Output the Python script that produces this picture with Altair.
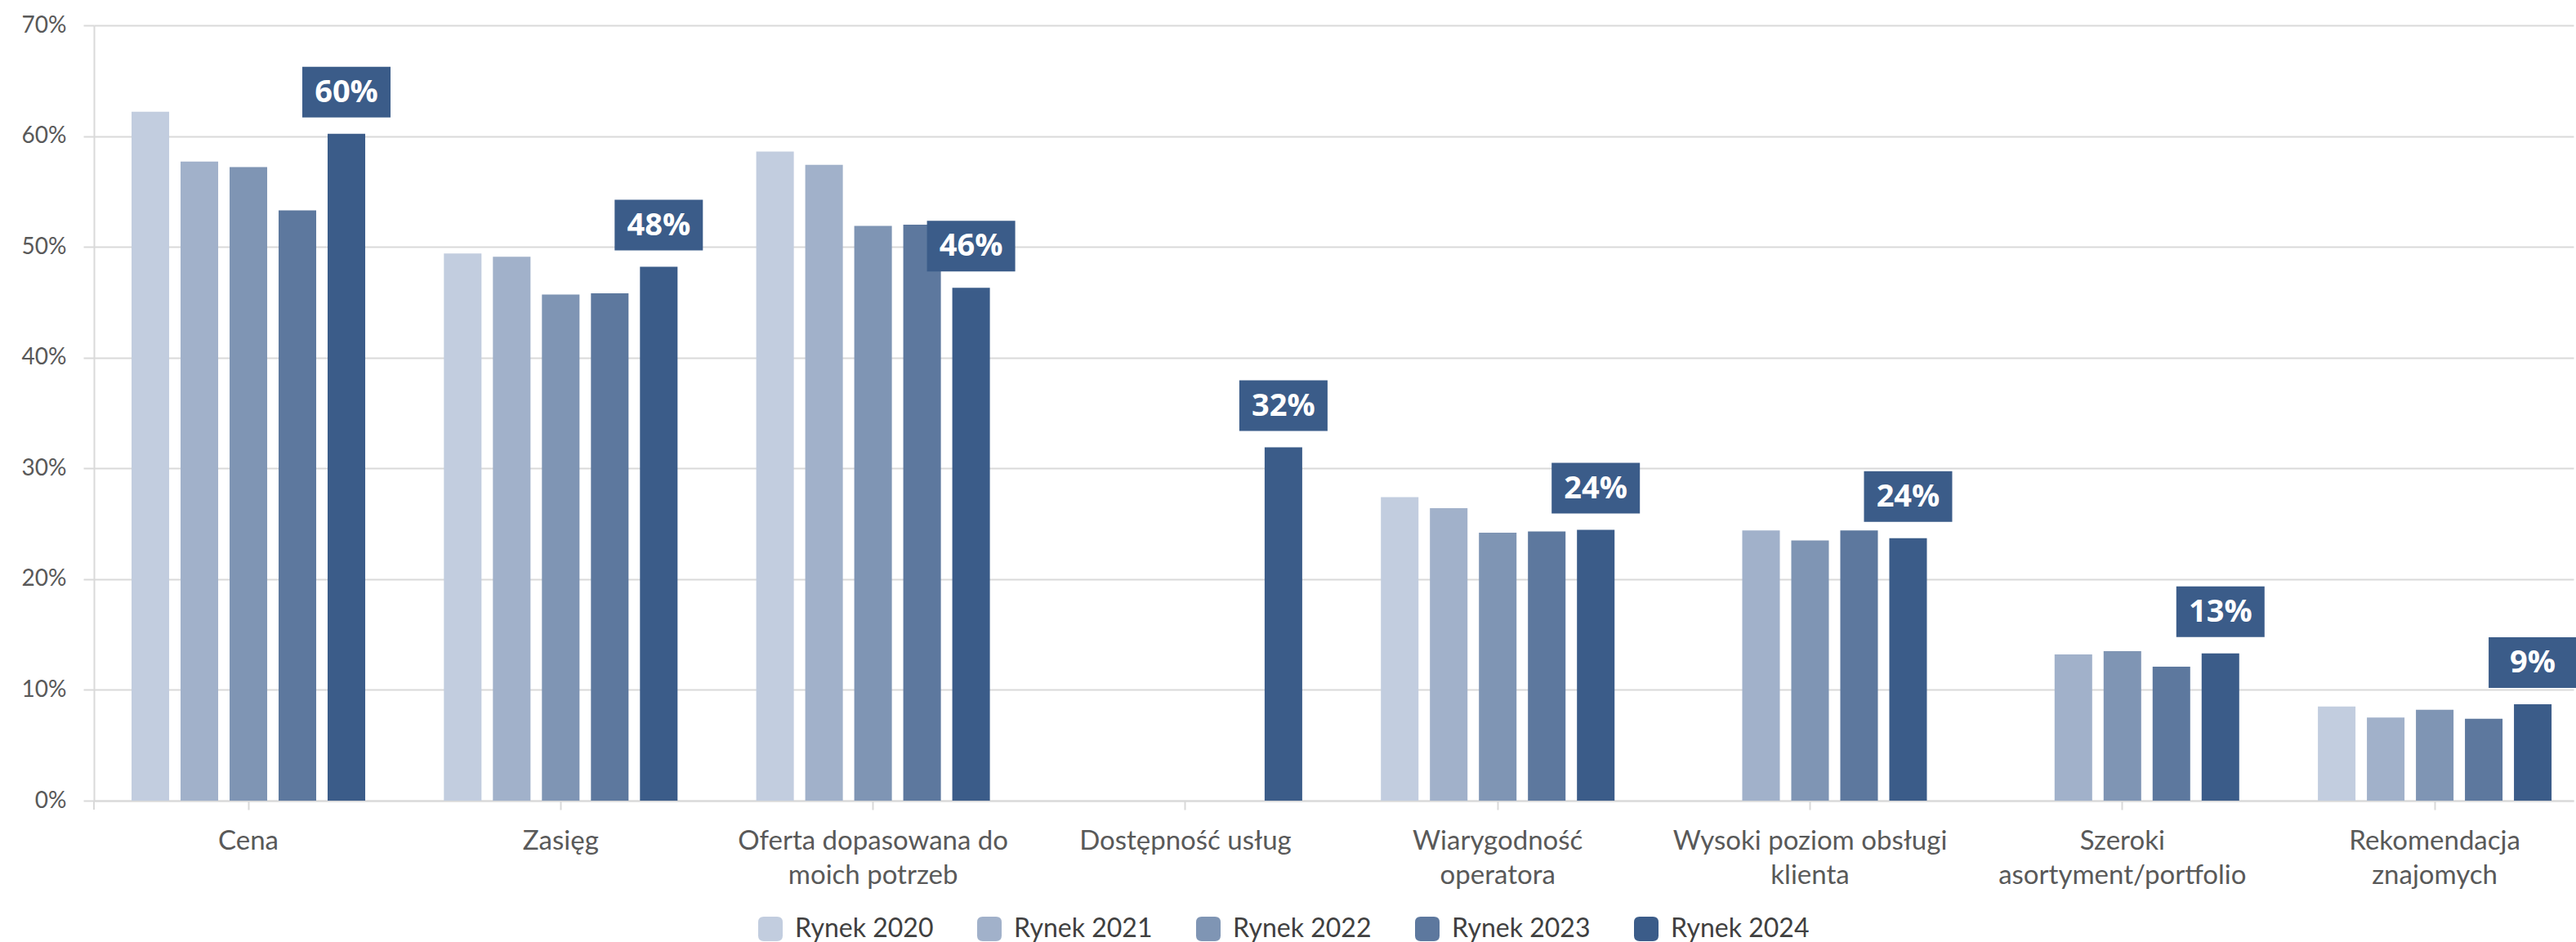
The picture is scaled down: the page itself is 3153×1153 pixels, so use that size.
import altair as alt
import pandas as pd

# Categories (line breaks mark where the axis label wraps)
categories = [
    "Cena",
    "Zasięg",
    "Oferta dopasowana do\nmoich potrzeb",
    "Dostępność usług",
    "Wiarygodność\noperatora",
    "Wysoki poziom obsługi\nklienta",
    "Szeroki\nasortyment/portfolio",
    "Rekomendacja\nznajomych",
]

series = ["Rynek 2020", "Rynek 2021", "Rynek 2022", "Rynek 2023", "Rynek 2024"]

# Share of answers, in percent (None = not asked that year)
rynek_2020 = [62.2, 49.4, 58.6, None, 27.4, None, None, 8.5]
rynek_2021 = [57.7, 49.1, 57.4, None, 26.4, 24.4, 13.2, 7.5]
rynek_2022 = [57.2, 45.7, 51.9, None, 24.2, 23.5, 13.5, 8.2]
rynek_2023 = [53.3, 45.8, 52.0, None, 24.3, 24.4, 12.1, 7.4]
rynek_2024 = [60.2, 48.2, 46.3, 31.9, 24.45, 23.7, 13.3, 8.7]

colors = ["#C2CDDF", "#A1B1CA", "#7F95B4", "#5D789E", "#3B5C89"]

y_ticks = [0, 10, 20, 30, 40, 50, 60, 70]

rows = []
for name, values in zip(series, [rynek_2020, rynek_2021, rynek_2022, rynek_2023, rynek_2024]):
    for cat, v in zip(categories, values):
        if v is not None:
            rows.append({"kategoria": cat, "rok": name, "wartosc": v})
df = pd.DataFrame(rows)

W, H = 3035, 949
GRID = "#D9D9D9"
BOX_PATH = "M-1,-0.574L1,-0.574L1,0.574L-1,0.574Z"
ROUNDED = ("M-1,-0.55Q-1,-1,-0.55,-1L0.55,-1Q1,-1,1,-0.55L1,0.55"
           "Q1,1,0.55,1L-0.55,1Q-1,1,-1,0.55Z")

x_enc = alt.X(
    "kategoria:N",
    sort=categories,
    scale=alt.Scale(
        domain=categories, paddingInner=0.2519, paddingOuter=0.0954, align=0.631
    ),
    axis=alt.Axis(
        title=None,
        labelAngle=0,
        labelExpr="split(datum.label, '\\n')",
        labelFont="Lato",
        labelFontSize=33,
        labelColor="#595959",
        labelLineHeight=42,
        labelPadding=22,
        labelBaseline="top",
        tickSize=11,
        tickColor=GRID,
        tickWidth=2,
        domainColor=GRID,
        domainWidth=2,
        labelLimit=0,
    ),
)
xoff_enc = alt.XOffset(
    "rok:N",
    sort=series,
    scale=alt.Scale(domain=series, paddingInner=0.233, paddingOuter=0),
)
y_enc = alt.Y(
    "wartosc:Q",
    scale=alt.Scale(domain=[0, 70], nice=False, zero=True),
    axis=alt.Axis(
        title=None,
        values=y_ticks,
        labelExpr="datum.value + '%'",
        labelFont="Lato",
        labelFontSize=28,
        labelColor="#595959",
        labelPadding=21,
        tickSize=13,
        tickColor=GRID,
        tickWidth=2,
        domainColor=GRID,
        domainWidth=2,
        grid=True,
        gridColor=GRID,
        gridWidth=2,
    ),
)

bars = alt.Chart(df).mark_bar().encode(
    x=x_enc,
    xOffset=xoff_enc,
    y=y_enc,
    color=alt.Color(
        "rok:N",
        sort=series,
        scale=alt.Scale(domain=series, range=colors),
        legend=alt.Legend(
            title=None,
            orient="none",
            direction="horizontal",
            legendX=812,
            legendY=1090,
            padding=0,
            symbolType=ROUNDED,
            symbolSize=900,
            symbolStrokeWidth=0,
            symbolOpacity=1,
            labelFont="Lato",
            labelFontSize=32,
            labelColor="#404040",
            labelOffset=14,
            columnPadding=52,
            labelLimit=0,
        ),
    ),
)

latest = alt.Chart(df).transform_filter(
    alt.datum.rok == "Rynek 2024"
).transform_calculate(
    etykieta="format(datum.wartosc, '.0f') + '%'"
)

boxes = latest.mark_point(
    shape=BOX_PATH, size=108 * 108, filled=True, opacity=1,
    color="#3B5C89", strokeWidth=0, yOffset=-51,
).encode(x=x_enc, xOffset=xoff_enc, y=y_enc)

labels = latest.mark_text(
    font="Open Sans", fontSize=38, fontWeight="bold", color="white",
    baseline="middle", align="center", yOffset=-50,
).encode(x=x_enc, xOffset=xoff_enc, y=y_enc, text="etykieta:N")

# short stub of the value axis below the baseline
stub = alt.Chart(df).mark_rule(color=GRID, strokeWidth=2).encode(
    x=alt.value(0), y=alt.value(H), y2=alt.value(H + 11)
)

chart = alt.layer(bars, boxes, labels, stub).properties(
    width=W,
    height=H,
    autosize=alt.AutoSizeParams(type="none"),
    padding={"left": 115, "top": 31, "right": 3, "bottom": 173},
    background="white",
).configure_view(strokeWidth=0)

chart.save("out.html", embed_options={"renderer": "svg", "actions": False})
